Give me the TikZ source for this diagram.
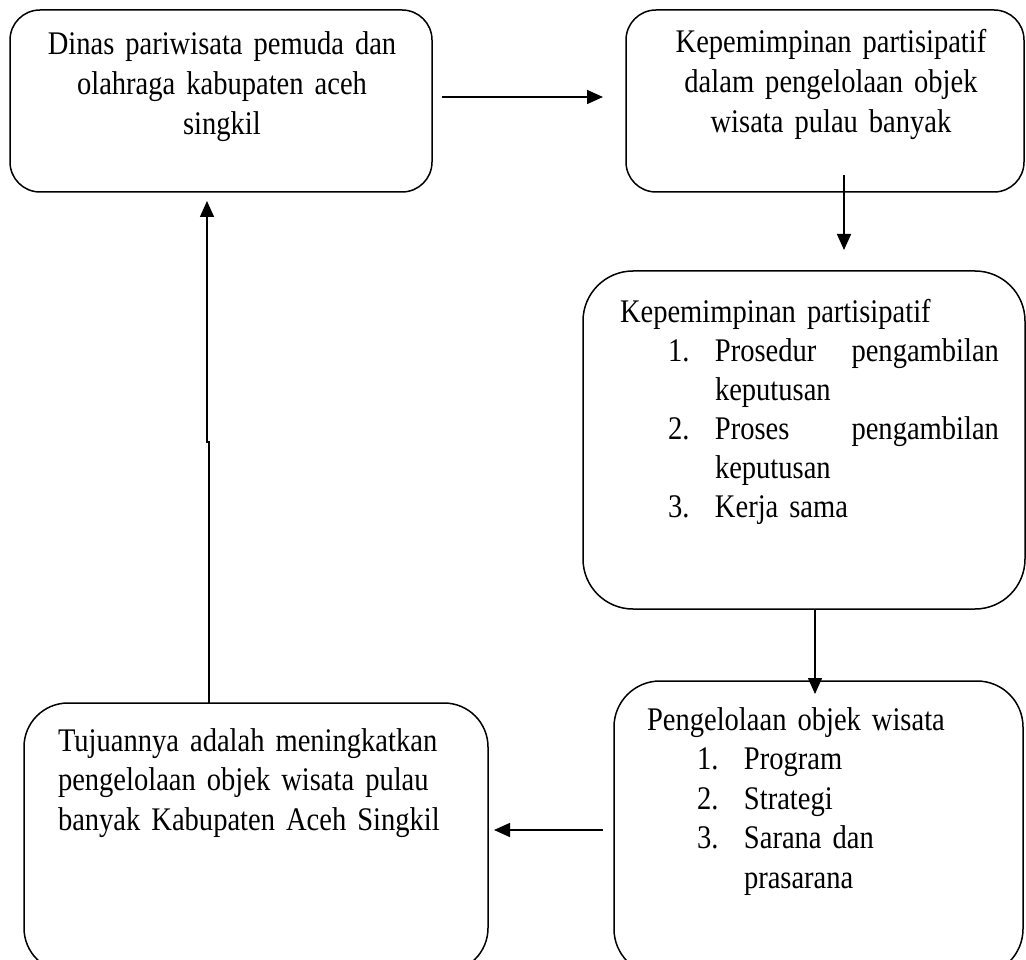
\documentclass[tikz,border=0pt]{standalone}
\usepackage{fontspec}
\setmainfont[FakeStretch=0.865]{Liberation Serif}
\usetikzlibrary{arrows.meta}
\tikzset{
  box/.style={draw=black, line width=1.5pt, inner sep=0pt, outer sep=0pt, rectangle},
  txt/.style={inner sep=0pt, outer sep=0pt, anchor=base, font=\fontsize{33}{40}\selectfont},
  arr/.style={line width=1.5pt, -{Triangle[length=16pt,width=14pt]}},
}
\begin{document}
\begin{tikzpicture}[x=1pt,y=-1pt]
\useasboundingbox (0,0) rectangle (1026,960);
\clip (0,0) rectangle (1026,960);
% boxes
\node[box, rounded corners=30pt, minimum width=422pt, minimum height=182pt] (b1) at (221,101) {};
\node[box, rounded corners=30pt, minimum width=398pt, minimum height=182pt] (b2) at (825,101) {};
\node[box, rounded corners=50pt, minimum width=442pt, minimum height=338pt] (b3) at (804,440) {};
\node[box, rounded corners=46pt, minimum width=409pt, minimum height=294pt] (b4) at (818.5,828) {};
\node[box, rounded corners=44pt, minimum width=464pt, minimum height=269pt] (b5) at (256,837.5) {};
% texts
\node[txt, text width=410pt, align=center] (t1) at (222,55)
  {Dinas pariwisata pemuda dan\\olahraga kabupaten aceh\\singkil};
\node[txt, text width=390pt, align=center] (t2) at (831,53)
  {Kepemimpinan partisipatif\\dalam pengelolaan objek\\wisata pulau banyak};
\node[txt, anchor=base west, text width=395pt, align=left, font=\fontsize{33}{39}\selectfont] (t3) at (620,323)
  {Kepemimpinan partisipatif\\
   \hspace*{48pt}\makebox[47pt][l]{1.}\hbox to 284pt{Prosedur\hfill pengambilan}\\
   \hspace*{95pt}keputusan\\
   \hspace*{48pt}\makebox[47pt][l]{2.}\hbox to 284pt{Proses\hfill pengambilan}\\
   \hspace*{95pt}keputusan\\
   \hspace*{48pt}\makebox[47pt][l]{3.}Kerja sama};
\node[txt, anchor=base west, text width=360pt, align=left, font=\fontsize{33}{39.5}\selectfont] (t4) at (647,730)
  {Pengelolaan objek wisata\\
   \hspace*{50pt}\makebox[47pt][l]{1.}Program\\
   \hspace*{50pt}\makebox[47pt][l]{2.}Strategi\\
   \hspace*{50pt}\makebox[47pt][l]{3.}Sarana dan\\
   \hspace*{97pt}prasarana};
\node[txt, anchor=base west, text width=420pt, align=left, font=\fontsize{33}{39.5}\selectfont] (t5) at (58,751)
  {Tujuannya adalah meningkatkan\\pengelolaan objek wisata pulau\\banyak Kabupaten Aceh Singkil};
% connectors
\draw[arr] ([xshift=10pt,yshift=4pt]b1.east) -- ([xshift=-23pt,yshift=4pt]b2.west);
\draw[arr] ([xshift=19pt,yshift=17pt]b2.south) -- ([xshift=40pt,yshift=21pt]b3.north);
\draw[arr] ([xshift=11pt]b3.south) -- ([xshift=-3.5pt,yshift=-13pt]b4.north);
\draw[arr] ([xshift=-11pt,yshift=-2pt]b4.west) -- ([xshift=6pt,yshift=7.5pt]b5.east);
\coordinate (jog) at (209,442);
\draw[arr] ([xshift=-47pt]b5.north) -- (jog) -- ++(-2,0) -- ([xshift=-14pt,yshift=-9pt]b1.south);
\end{tikzpicture}
\end{document}
